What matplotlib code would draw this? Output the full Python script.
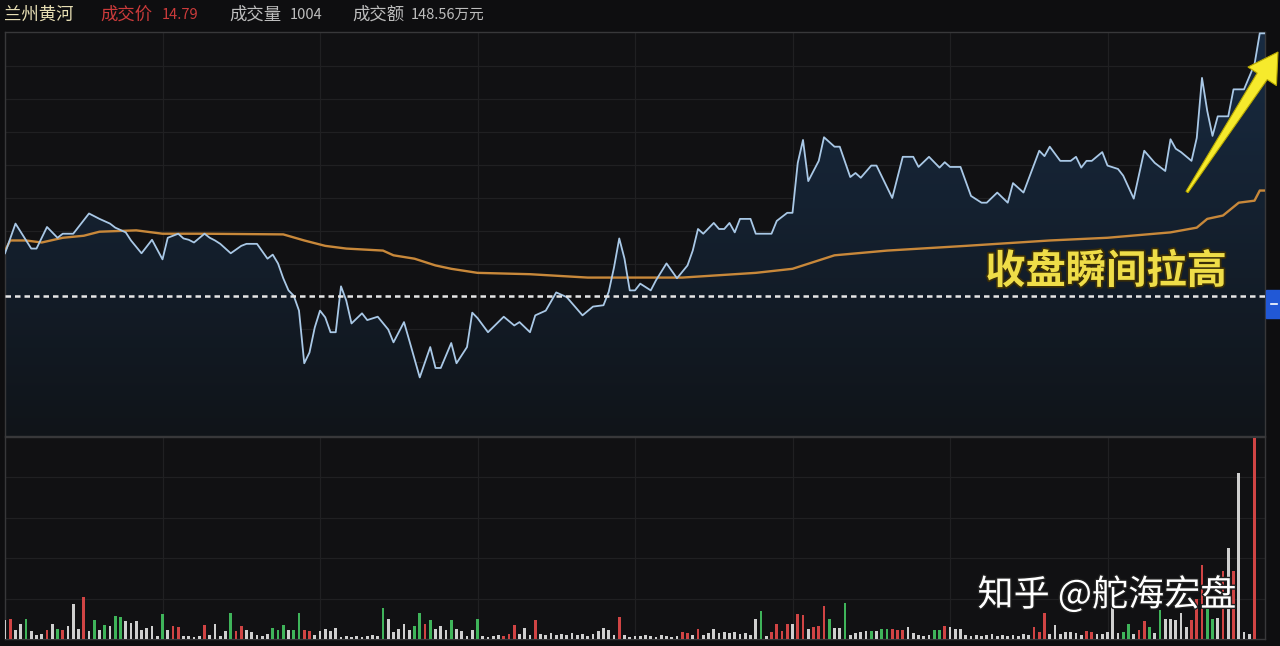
import numpy as np
import matplotlib
matplotlib.use("Agg")
import matplotlib.pyplot as plt
import matplotlib.patheffects as pe
from matplotlib.colors import LinearSegmentedColormap
from matplotlib.patches import Polygon, Rectangle
from matplotlib.lines import Line2D

plt.rcParams['font.family'] = ['Noto Sans CJK SC', 'DejaVu Sans']

# ---- data (minute index 0..240, 9:30 -> 15:00) ----
prev_close = 14.40
last_price = 14.79
last_volume = 1004
turnover = "148.56万元"

price_minutes = [0, 2, 5, 6, 8, 10, 11, 13, 16, 18,
                 20, 21, 23, 24, 26, 28, 30, 31, 33, 34,
                 35, 36, 38, 39, 40, 41, 43, 45, 46, 48,
                 50, 51, 52, 53, 54, 55, 56, 57, 58, 59,
                 60, 61, 62, 63, 64, 65, 66, 68, 69, 71,
                 73, 74, 76, 77, 79, 81, 82, 83, 85, 86,
                 88, 89, 90, 92, 95, 97, 98, 100, 101, 103,
                 105, 107, 110, 112, 114, 115, 116, 117, 118, 119,
                 120, 121, 123, 124, 126, 128, 130, 131, 132, 133,
                 135, 136, 137, 138, 139, 140, 142, 143, 146, 147,
                 149, 150, 151, 152, 153, 155, 156, 158, 159, 161,
                 162, 163, 165, 166, 169, 171, 173, 174, 176, 178,
                 179, 180, 182, 184, 186, 187, 189, 191, 192, 194,
                 197, 198, 199, 201, 203, 204, 205, 206, 207, 209,
                 210, 212, 213, 215, 217, 219, 221, 222, 223, 224,
                 226, 227, 228, 229, 230, 231, 233, 234, 236, 238,
                 239, 240]
price_values = [14.464, 14.508, 14.471, 14.471, 14.503, 14.487, 14.493, 14.493, 14.523, 14.515,
                14.508, 14.502, 14.495, 14.483, 14.464, 14.484, 14.455, 14.487, 14.493, 14.486,
                14.484, 14.480, 14.493, 14.487, 14.483, 14.478, 14.464, 14.475, 14.478, 14.478,
                14.456, 14.462, 14.449, 14.427, 14.409, 14.401, 14.379, 14.301, 14.317, 14.354,
                14.379, 14.369, 14.347, 14.347, 14.415, 14.394, 14.360, 14.375, 14.365, 14.370,
                14.351, 14.332, 14.362, 14.335, 14.280, 14.325, 14.294, 14.294, 14.331, 14.301,
                14.325, 14.376, 14.368, 14.347, 14.370, 14.357, 14.362, 14.347, 14.372, 14.379,
                14.406, 14.399, 14.372, 14.385, 14.387, 14.407, 14.443, 14.486, 14.456, 14.409,
                14.409, 14.419, 14.409, 14.424, 14.449, 14.427, 14.446, 14.468, 14.500, 14.493,
                14.509, 14.500, 14.500, 14.509, 14.495, 14.515, 14.515, 14.493, 14.493, 14.512,
                14.524, 14.524, 14.598, 14.632, 14.571, 14.601, 14.636, 14.622, 14.622, 14.577,
                14.583, 14.576, 14.594, 14.594, 14.546, 14.607, 14.607, 14.592, 14.607, 14.591,
                14.599, 14.592, 14.592, 14.549, 14.539, 14.539, 14.554, 14.539, 14.568, 14.554,
                14.616, 14.608, 14.622, 14.601, 14.601, 14.607, 14.591, 14.601, 14.601, 14.614,
                14.594, 14.589, 14.579, 14.545, 14.616, 14.598, 14.586, 14.633, 14.619, 14.614,
                14.601, 14.635, 14.724, 14.675, 14.638, 14.667, 14.667, 14.707, 14.707, 14.744,
                14.790, 14.790]

avg_minutes = [0, 1, 4, 7, 11, 15, 18, 25, 30, 38,
               53, 57, 61, 65, 72, 74, 78, 82, 85, 90,
               100, 111, 121, 129, 143, 150, 158, 168, 183, 199,
               210, 222, 227, 229, 232, 235, 238, 239, 240]
avg_values = [14.468, 14.483, 14.483, 14.480, 14.487, 14.490, 14.496, 14.498, 14.493, 14.493,
              14.492, 14.483, 14.475, 14.471, 14.468, 14.461, 14.456, 14.446, 14.441, 14.435,
              14.433, 14.428, 14.428, 14.428, 14.435, 14.441, 14.461, 14.468, 14.475, 14.483,
              14.487, 14.495, 14.502, 14.515, 14.520, 14.539, 14.542, 14.557, 14.557]

volumes = [95, 100, 45, 75, 100, 40, 20, 25, 45, 75,
           50, 45, 65, 175, 50, 210, 40, 95, 45, 70,
           65, 115, 110, 90, 80, 90, 45, 55, 65, 15,
           125, 45, 65, 60, 15, 15, 10, 15, 70, 20,
           75, 15, 40, 130, 40, 65, 45, 35, 20, 15,
           25, 55, 45, 70, 45, 45, 130, 45, 40, 20,
           40, 50, 40, 55, 10, 15, 10, 15, 10, 15,
           20, 15, 155, 100, 35, 50, 75, 45, 65, 130,
           75, 95, 50, 65, 45, 95, 50, 40, 15, 45,
           100, 15, 10, 15, 20, 15, 25, 70, 25, 55,
           20, 95, 25, 20, 30, 20, 25, 20, 30, 20,
           25, 15, 25, 40, 55, 45, 20, 110, 20, 10,
           15, 15, 20, 15, 10, 20, 15, 10, 15, 35,
           30, 20, 50, 20, 30, 50, 30, 35, 30, 35,
           25, 30, 20, 100, 140, 15, 35, 75, 40, 75,
           75, 125, 120, 50, 60, 65, 165, 100, 55, 55,
           180, 20, 30, 35, 40, 40, 40, 50, 50, 50,
           45, 45, 60, 30, 20, 15, 20, 45, 45, 65,
           60, 50, 50, 20, 15, 20, 15, 20, 25, 15,
           20, 15, 20, 15, 25, 20, 60, 35, 130, 25,
           70, 25, 35, 35, 30, 20, 40, 35, 25, 25,
           35, 255, 30, 35, 75, 25, 45, 90, 60, 30,
           145, 100, 100, 95, 130, 60, 95, 200, 370, 250,
           100, 105, 340, 455, 340, 830, 35, 25, 1004, 0,
           0]
# r = up tick, g = down tick, w = unchanged
vol_colors = ("wrwwgwwwrw" "grwwwrwgwg" "wggwwwwwww" "gwrrwwwwrw" "wwwgrrwwww"
              "wgggwggrrw" "wwwwwwwwww" "wwgwwwwwgg" "rgwwwgwwww" "gwwwwrrrww"
              "wrwwwwwwww" "wwwwwwwrww" "wwwwwwwwwr" "rwrwwwwwww" "wwwwgwrrrr"
              "wrrwrrrgww" "gwwwwgwggr" "rrwwwwwggr" "wwwwwwwwww" "wwwwwwrrrw"
              "wwwwwwrrww" "wwwggwrrgw" "gwwwwwrrrg" "gwrwrwwwrw" "w")

# ---- layout ----
W, H = 1280, 646
BG = '#0e0e10'
PANEL = '#111113'
GRID = '#202022'

fig = plt.figure(figsize=(W / 100, H / 100), dpi=100, facecolor=BG)


def px_axes(x0, y0, x1, y1):
    return fig.add_axes([x0 / W, 1 - y1 / H, (x1 - x0) / W, (y1 - y0) / H])


ax = px_axes(5, 32, 1265, 436)
axv = px_axes(5, 437, 1265, 639)

step = (last_price - prev_close) / 8
price_lo = prev_close - 140 / 264 * (last_price - prev_close)
price_hi = last_price + 0.002

for a in (ax, axv):
    a.set_facecolor(PANEL)
    a.set_xticks([])
    a.set_yticks([])
    for s in a.spines.values():
        s.set_color('#38383a')
        s.set_linewidth(1.0)
    for m in range(30, 240, 30):
        a.axvline(m, color=GRID, lw=0.9, zorder=0)

for k in list(range(-4, 0)) + list(range(1, 8)):
    ax.axhline(prev_close + k * step, color=GRID, lw=0.9, zorder=0)

# gradient fill under the price line
fill = ax.fill_between(price_minutes, price_values, price_lo, facecolor='none', edgecolor='none')
cmap = LinearSegmentedColormap.from_list('navy', ['#101419', '#182b42'])
im = ax.imshow(np.linspace(0, 1, 256).reshape(-1, 1), cmap=cmap, aspect='auto',
               extent=[0, 240, price_lo, price_hi], origin='lower', zorder=1)
im.set_clip_path(fill.get_paths()[0], transform=ax.transData)

ax.plot(avg_minutes, avg_values, color='#c8883a', lw=1.7, zorder=3)
ax.plot(price_minutes, price_values, color='#a9c8e6', lw=1.3, zorder=4)
ax.axhline(prev_close, color='#e6e6e6', lw=1.8, ls=(0, (2.2, 1.6)), zorder=5)
ax.set_xlim(0, 240)
ax.set_ylim(price_lo, price_hi)

colmap = {'r': '#d04444', 'g': '#3fb45a', 'w': '#cfcfcf'}
axv.bar(range(len(volumes)), volumes, width=0.55,
        color=[colmap[c] for c in vol_colors], zorder=3)
for k in range(1, 5):
    axv.axhline(1010 * k / 5, color=GRID, lw=0.9, zorder=0)
axv.set_xlim(0, 240)
axv.set_ylim(0, 1010)

# ---- header ----
hy = 1 - 15 / H
fig.text(4 / W, hy, '兰州黄河', color='#e8dfb4', fontsize=12.5, va='center')
fig.text(100 / W, hy, '成交价', color='#cc3b3b', fontsize=12.5, va='center')
fig.text(162 / W, hy, f'{last_price:.2f}', color='#cc3b3b', fontsize=10.5, va='center')
fig.text(229 / W, hy, '成交量', color='#bdbdbd', fontsize=12.5, va='center')
fig.text(290 / W, hy, str(last_volume), color='#bdbdbd', fontsize=10.5, va='center')
fig.text(352 / W, hy, '成交额', color='#bdbdbd', fontsize=12.5, va='center')
fig.text(411 / W, hy, turnover, color='#bdbdbd', fontsize=10.5, va='center')

# ---- annotations ----
fig.text(1106 / W, 1 - 272 / H, '收盘瞬间拉高', color='#efdd48', fontsize=29,
         fontweight='bold', ha='center', va='center',
         path_effects=[pe.withStroke(linewidth=2.5, foreground='#3a2e08')])
fig.text(1107 / W, 1 - 595 / H, '知乎 @舵海宏盘', color='white', fontsize=26,
         ha='center', va='center',
         path_effects=[pe.withStroke(linewidth=2, foreground='#202020')])

tail = np.array([1187, H - 192]) / 100
tip = np.array([1278, H - 52]) / 100
u = (tip - tail) / np.linalg.norm(tip - tail)
n = np.array([-u[1], u[0]])
base = tip - u * 0.29
arrow_pts = [tail + n * 0.012, base + n * 0.06, base + n * 0.17, tip,
             base - n * 0.17, base - n * 0.06, tail - n * 0.012]
fig.add_artist(Polygon(arrow_pts, closed=True, transform=fig.dpi_scale_trans,
                       facecolor='#f6ea2c', edgecolor='#b8a800', lw=0.8))

# price tag on the right edge
fig.add_artist(Rectangle((12.66, (H - 318) / 100), 0.14, 0.28,
                         transform=fig.dpi_scale_trans, color='#2158d6'))
fig.add_artist(Line2D([12.71, 12.77], [(H - 304) / 100] * 2,
                      transform=fig.dpi_scale_trans, color='white', lw=1.2))

fig.savefig('out.png', dpi=100, facecolor=BG)
